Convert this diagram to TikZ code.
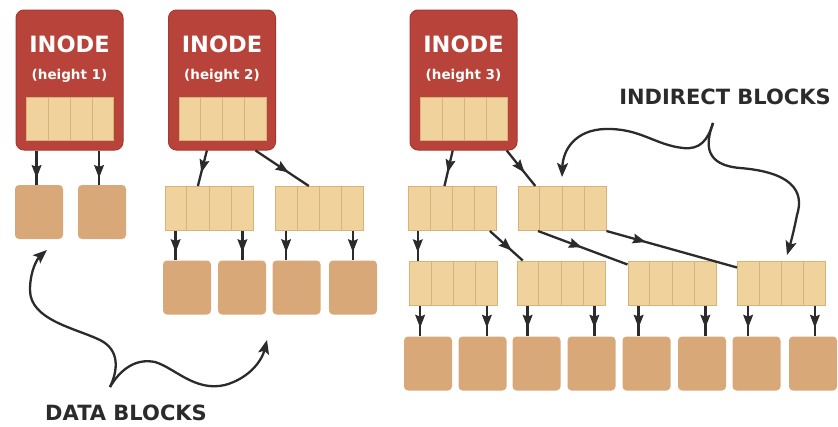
\documentclass[tikz,border=0pt]{standalone}
\usepackage{fontspec}
\setmainfont{DejaVu Sans}
\usetikzlibrary{arrows.meta,decorations.markings,calc}

\definecolor{inodered}{HTML}{B8433A}
\definecolor{inodeedge}{HTML}{A8372F}
\definecolor{slotfill}{HTML}{EFD29C}
\definecolor{slotline}{HTML}{D9B27A}
\definecolor{datafill}{HTML}{D8A878}
\definecolor{ink}{HTML}{2B2B2B}

% vertical dividers splitting a pointer array into four cells
\newcommand\celldivs[1]{%
  \foreach \k in {1,2,3}{%
    \draw[slotline, line width=1pt]
      ($(#1.north west)!\k/4!(#1.north east)$) -- ($(#1.south west)!\k/4!(#1.south east)$);}}

% straight downward pointer: #1 arrow position, #2 node giving x, #3 fraction across it,
% #4 node whose bottom is the start, #5 target node
\newcommand\droplink[5]{%
  \draw[link=#1] let \p1=($(#2.south west)!#3!(#2.south east)$),
                     \p2=(#4.south), \p3=(#5.north) in (\x1,\y2) -- (\x1,\y3);}

\begin{document}
\begin{tikzpicture}[x=1pt,y=-1pt,
  inode/.style={draw=inodeedge, line width=1pt, fill=inodered, rounded corners=8pt,
    minimum width=107pt, minimum height=140pt, inner sep=0pt},
  slots/.style={draw=slotline, line width=1pt, fill=slotfill, inner sep=0pt,
    minimum width=88pt, minimum height=44pt},
  datablk/.style={fill=datafill, rounded corners=4pt, minimum width=48pt,
    minimum height=54pt, inner sep=0pt},
  inodetitle/.style={text=white, font=\bfseries\fontsize{22.5}{24}\selectfont, inner sep=0pt},
  inodesub/.style={text=white!95!slotfill, font=\bfseries\fontsize{13.5}{15}\selectfont, inner sep=0pt},
  caption/.style={text=ink, font=\bfseries\fontsize{21}{23}\selectfont, inner sep=0pt},
  link/.style={draw=ink, line width=2.3pt, postaction={decorate},
    decoration={markings, mark=at position #1 with
      {\arrow[ink, line width=1pt]{Stealth[length=13pt,width=10pt,inset=2pt]}}}},
  link/.default=0.75,
  brace/.style={draw=ink, line width=2.3pt, -{Stealth[length=14pt,width=11pt,inset=3pt]}}
]
\useasboundingbox[fill=white] (0,0) rectangle (838,426);

% ---------- inodes ----------
\node[inode] (I1) at (69.5,80) {};
\node[inode] (I2) at (222,80) {};
\node[inode] (I3) at (463.5,80) {};
\foreach \n/\h in {1/1,2/2,3/3}{
  \node[inodetitle] (T\n) at ($(I\n.north)+(0,35)$) {INODE};
  \node[inodesub] (H\n) at ($(I\n.north)+(0,66)$) {(height \h)};
  \node[slots, minimum width=87pt, minimum height=43pt] (S\n) at ($(I\n.north)+(0.5,109.5)$) {};
  \celldivs{S\n}
}

% ---------- height 1: direct data blocks ----------
\node[datablk] (d11) at (39,212) {};
\node[datablk] (d12) at (102,212) {};
\droplink{0.8}{S1}{0.12}{I1}{d11}
\droplink{0.8}{S1}{0.83}{I1}{d12}

% ---------- height 2 ----------
\node[slots] (A) at (209,208.5) {};
\node[slots] (B) at (319.5,208.5) {};
\celldivs{A}\celldivs{B}
\draw[link=0.62] ($(I2.south west)!0.36!(I2.south east)$) -- ($(A.north west)!0.375!(A.north east)$);
\draw[link=0.62] ($(I2.south west)!0.81!(I2.south east)$) -- ($(B.north west)!0.38!(B.north east)$);

\foreach \n/\x in {1/187,2/242,3/296.5,4/353}{
  \node[datablk] (d2\n) at (\x,287.5) {};}
\droplink{0.72}{A}{0.125}{A}{d21}
\droplink{0.72}{A}{0.875}{A}{d22}
\droplink{0.72}{B}{0.125}{B}{d23}
\droplink{0.72}{B}{0.875}{B}{d24}

% ---------- height 3 ----------
\node[slots] (C) at (452.5,208.5) {};
\node[slots] (D) at (562,208.5) {};
\node[slots] (E) at (453.5,283) {};
\node[slots] (F) at (561,283) {};
\node[slots] (G) at (672,283) {};
\node[slots] (H) at (781.5,283) {};
\foreach \b in {C,D,E,F,G,H}{\celldivs{\b}}

\draw[link=0.62] ($(I3.south west)!0.40!(I3.south east)$) -- ($(C.north west)!0.41!(C.north east)$);
\draw[link=0.62] ($(I3.south west)!0.90!(I3.south east)$) -- ($(D.north west)!0.2!(D.north east)$);

\droplink{0.72}{C}{0.11}{C}{E}
\draw[link=0.66] ($(C.south west)!0.92!(C.south east)$) -- ($(F.north west)!0.07!(F.north east)$);
\draw[link=0.49] ($(D.south west)!0.23!(D.south east)$) -- ($(G.north west)+(0,4)$);
\draw[link=0.3] (D.south east) -- ($(H.north west)+(0,7)$);

\foreach \n/\x in {1/428,2/482.5,3/536.5,4/591.5,5/646.5,6/702,7/756.5,8/813}{
  \node[datablk] (d3\n) at (\x,363.5) {};}
\droplink{0.72}{E}{0.125}{E}{d31}
\droplink{0.72}{E}{0.875}{E}{d32}
\droplink{0.72}{F}{0.125}{F}{d33}
\droplink{0.72}{F}{0.875}{F}{d34}
\droplink{0.72}{G}{0.125}{G}{d35}
\droplink{0.72}{G}{0.875}{G}{d36}
\droplink{0.72}{H}{0.125}{H}{d37}
\droplink{0.72}{H}{0.875}{H}{d38}

% ---------- captions with curly pointers ----------
\node[caption] (dl) at (126,413) {DATA BLOCKS};
\node[caption] (il) at (725,97) {INDIRECT BLOCKS};

\coordinate (dtip) at (110,387);
\coordinate (dleft) at (47,250);
\coordinate (dright) at (267,340);
\draw[brace] (dtip) .. controls (118,370) and (120,350) .. (100,340)
  .. controls (75,328) and (30,320) .. (30,290)
  .. controls (30,270) and (38,258) .. (dleft);
\draw[brace] (dtip) .. controls (120,370) and (135,358) .. (155,362)
  .. controls (175,368) and (195,392) .. (225,385)
  .. controls (250,378) and (262,360) .. (dright);

\coordinate (itip) at (713,123);
\coordinate (ileft) at (562,177);
\coordinate (iright) at (787,255);
\draw[brace] (itip) .. controls (708,140) and (700,150) .. (683,148)
  .. controls (655,145) and (640,128) .. (605,129)
  .. controls (575,130) and (563,150) .. (ileft);
\draw[brace] (itip) .. controls (705,145) and (705,165) .. (740,168)
  .. controls (790,172) and (805,190) .. (797,215)
  .. controls (793,235) and (790,245) .. (iright);
\end{tikzpicture}
\end{document}
